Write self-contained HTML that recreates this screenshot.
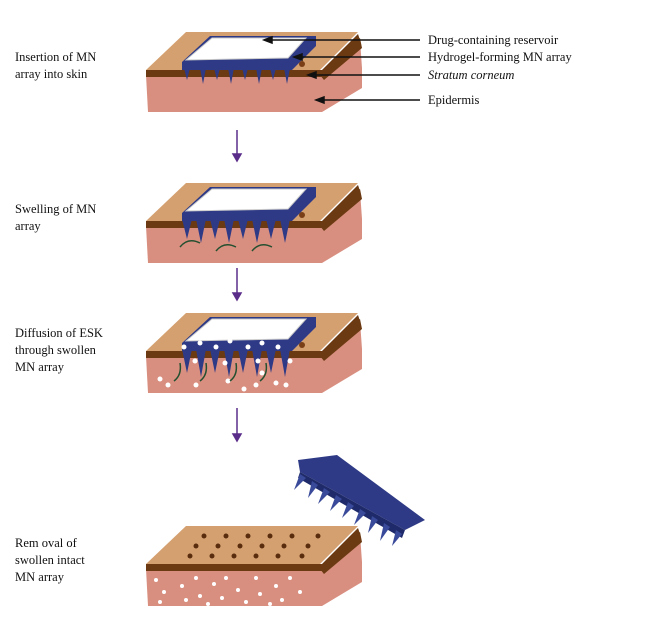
<!DOCTYPE html>
<html><head><style>
html,body{margin:0;padding:0;background:#fff;width:649px;height:626px;overflow:hidden}
text{font-family:"Liberation Serif",serif;font-size:12.5px;fill:#111}
</style></head><body>
<svg width="649" height="626" viewBox="0 0 649 626" xmlns="http://www.w3.org/2000/svg">
<defs>
<g id="block">
  <polygon points="146,75 320,75 360,40 362,68 362,88 322,112 148,112" fill="#d98f80"/>
  <polygon points="320,75 360,38 362,48 324,80" fill="#6b3a12"/>
  <polygon points="146,70 186,32 358,32 320,70" fill="#d4a070"/>
  <rect x="146" y="70" width="176" height="7" fill="#6b3a12"/>
  <polygon points="322,70 358,34 360,40 322,77" fill="#6b3a12"/>
</g>
<g id="patch">
  <polygon points="182,62 210,36 316,36 316,46 292,70 182,70" fill="#2e3a85"/>
  <polygon points="186,60 212,38 306,38 288,58" fill="#fff" stroke="#ccc"/>
</g>
</defs>

<use href="#block"/>
<use href="#patch"/>
<g fill="#2e3a85">
<polygon points="184,68 190,68 187,80"/><polygon points="200,68 206,68 203,84"/><polygon points="214,68 220,68 217,80"/><polygon points="228,68 234,68 231,84"/><polygon points="242,68 248,68 245,80"/><polygon points="256,68 262,68 259,84"/><polygon points="270,68 276,68 273,80"/><polygon points="284,68 290,68 287,84"/>
</g>
<circle cx="302" cy="64" r="3" fill="#7a3f16"/>
<g transform="translate(0,151)"><use href="#block"/><use href="#patch"/>
<g fill="#2e3a85"><polygon points="182,68 192,68 187,88"/><polygon points="196,68 206,68 201,92"/><polygon points="210,68 220,68 215,88"/><polygon points="224,68 234,68 229,92"/><polygon points="238,68 248,68 243,88"/><polygon points="252,68 262,68 257,92"/><polygon points="266,68 276,68 271,88"/><polygon points="280,68 290,68 285,92"/></g>
<g fill="none" stroke="#245030" stroke-width="1.5"><path d="M180,96 q8,-10 20,-4"/><path d="M216,100 q8,-10 20,-4"/><path d="M252,100 q8,-10 20,-4"/></g>
<circle cx="302" cy="64" r="3" fill="#7a3f16"/></g>
<g transform="translate(0,281)"><use href="#block"/><use href="#patch"/>
<g fill="#2e3a85"><polygon points="182,68 192,68 187,92"/><polygon points="196,68 206,68 201,96"/><polygon points="210,68 220,68 215,92"/><polygon points="224,68 234,68 229,96"/><polygon points="238,68 248,68 243,92"/><polygon points="252,68 262,68 257,96"/><polygon points="266,68 276,68 271,92"/><polygon points="280,68 290,68 285,96"/></g>
<g fill="#fff"><circle cx="184" cy="66" r="2.5"/><circle cx="200" cy="62" r="2.5"/><circle cx="216" cy="66" r="2.5"/><circle cx="230" cy="60" r="2.5"/><circle cx="248" cy="66" r="2.5"/><circle cx="262" cy="62" r="2.5"/><circle cx="278" cy="66" r="2.5"/><circle cx="290" cy="80" r="2.5"/><circle cx="195" cy="80" r="2.5"/><circle cx="225" cy="82" r="2.5"/><circle cx="258" cy="80" r="2.5"/><circle cx="160" cy="98" r="2.5"/><circle cx="168" cy="104" r="2.5"/><circle cx="196" cy="104" r="2.5"/><circle cx="228" cy="100" r="2.5"/><circle cx="244" cy="108" r="2.5"/><circle cx="256" cy="104" r="2.5"/><circle cx="276" cy="102" r="2.5"/><circle cx="286" cy="104" r="2.5"/><circle cx="262" cy="92" r="2.5"/></g>
<g fill="none" stroke="#245030" stroke-width="1.5"><path d="M174,100 q8,-6 6,-18"/><path d="M200,100 q8,-6 6,-18"/><path d="M230,100 q8,-6 6,-18"/><path d="M260,100 q8,-6 6,-18"/></g>
<circle cx="302" cy="64" r="3" fill="#7a3f16"/></g>
<g transform="translate(0,494)"><use href="#block"/>
<g fill="#5a2c0e"><circle cx="204" cy="42" r="2.5"/><circle cx="226" cy="42" r="2.5"/><circle cx="248" cy="42" r="2.5"/><circle cx="270" cy="42" r="2.5"/><circle cx="292" cy="42" r="2.5"/><circle cx="318" cy="42" r="2.5"/><circle cx="196" cy="52" r="2.5"/><circle cx="218" cy="52" r="2.5"/><circle cx="240" cy="52" r="2.5"/><circle cx="262" cy="52" r="2.5"/><circle cx="284" cy="52" r="2.5"/><circle cx="308" cy="52" r="2.5"/><circle cx="190" cy="62" r="2.5"/><circle cx="212" cy="62" r="2.5"/><circle cx="234" cy="62" r="2.5"/><circle cx="256" cy="62" r="2.5"/><circle cx="278" cy="62" r="2.5"/><circle cx="302" cy="62" r="2.5"/></g>
<g fill="#fff"><circle cx="156" cy="86" r="2"/><circle cx="164" cy="98" r="2"/><circle cx="160" cy="108" r="2"/><circle cx="182" cy="92" r="2"/><circle cx="196" cy="84" r="2"/><circle cx="200" cy="102" r="2"/><circle cx="214" cy="90" r="2"/><circle cx="222" cy="104" r="2"/><circle cx="226" cy="84" r="2"/><circle cx="238" cy="96" r="2"/><circle cx="246" cy="108" r="2"/><circle cx="256" cy="84" r="2"/><circle cx="260" cy="100" r="2"/><circle cx="276" cy="92" r="2"/><circle cx="282" cy="106" r="2"/><circle cx="290" cy="84" r="2"/><circle cx="300" cy="98" r="2"/><circle cx="186" cy="106" r="2"/><circle cx="208" cy="110" r="2"/><circle cx="270" cy="110" r="2"/></g></g>
<polygon points="298,460 337,455 425,520 405,530 300,472" fill="#2e3a85"/>
<polygon points="300,472 405,530 402,538 298,478" fill="#1e2a6a"/>
<g fill="#3a4a9a"><polygon points="300,474 306,478 294,490"/><polygon points="312,481 318,485 308,498"/><polygon points="324,488 330,492 318,504"/><polygon points="336,495 342,499 330,511"/><polygon points="348,502 354,506 342,518"/><polygon points="360,509 366,513 354,525"/><polygon points="372,516 378,520 368,533"/><polygon points="384,523 390,527 380,541"/><polygon points="396,530 402,534 392,546"/></g>

<g stroke="#5a2d8a" stroke-width="1.5" fill="#5a2d8a">
<line x1="237" y1="130" x2="237" y2="156"/><polygon points="233,154 241,154 237,161"/>
<line x1="237" y1="268" x2="237" y2="295"/><polygon points="233,293 241,293 237,300"/>
<line x1="237" y1="408" x2="237" y2="436"/><polygon points="233,434 241,434 237,441"/>
</g>
<g stroke="#111" stroke-width="1.5" fill="#111">
<line x1="265" y1="40" x2="420" y2="40"/><polygon points="264,40 272,37 272,43"/>
<line x1="296" y1="57" x2="420" y2="57"/><polygon points="294,57 302,54 302,60"/>
<line x1="310" y1="75" x2="420" y2="75"/><polygon points="308,75 316,72 316,78"/>
<line x1="318" y1="100" x2="420" y2="100"/><polygon points="316,100 324,97 324,103"/>
</g>
<text x="428" y="44">Drug-containing reservoir</text>
<text x="428" y="61">Hydrogel-forming MN array</text>
<text x="428" y="79" font-style="italic">Stratum corneum</text>
<text x="428" y="104">Epidermis</text>

<text x="15" y="61">Insertion of MN</text><text x="15" y="78">array into skin</text>
<text x="15" y="213">Swelling of MN</text><text x="15" y="230">array</text>
<text x="15" y="337">Diffusion of ESK</text><text x="15" y="354">through swollen</text><text x="15" y="371">MN array</text>
<text x="15" y="547">Rem oval of</text><text x="15" y="564">swollen intact</text><text x="15" y="581">MN array</text>
</svg>
</body></html>
